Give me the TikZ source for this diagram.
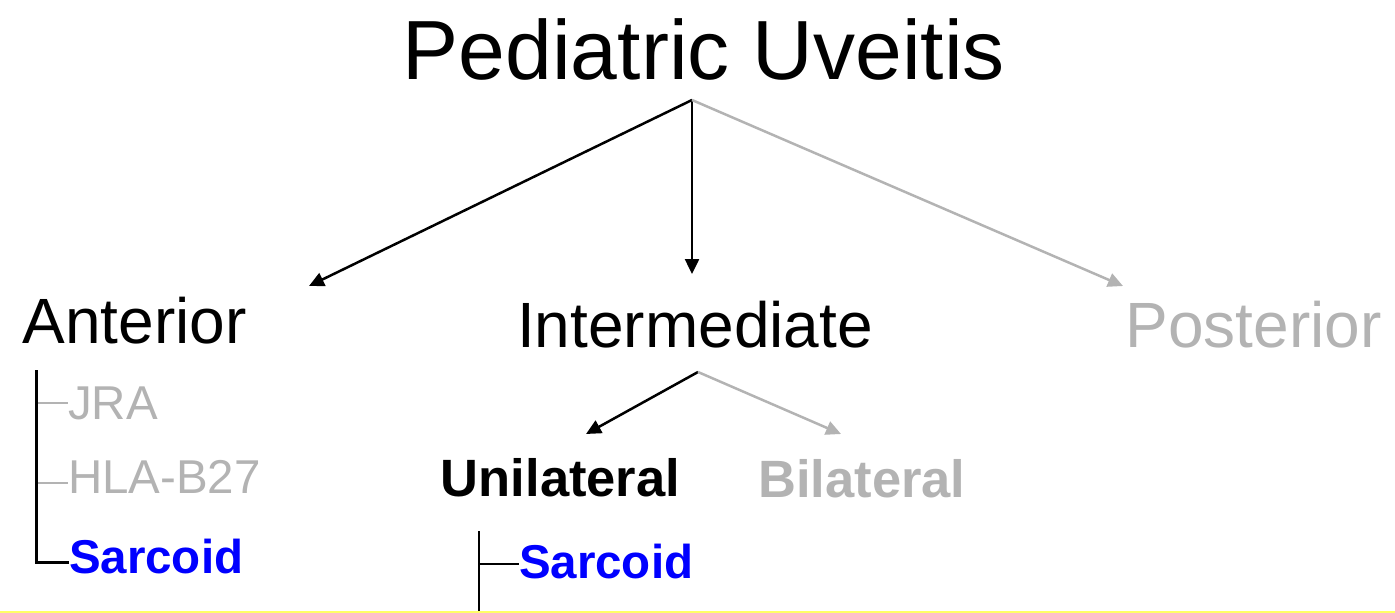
\documentclass[tikz,border=0pt]{standalone}
\usepackage{fontspec}
\setmainfont{Liberation Sans}
\usetikzlibrary{arrows.meta}
\definecolor{dimgray}{RGB}{179,179,179}
\definecolor{leafblue}{RGB}{0,0,255}
\definecolor{bandyellow}{RGB}{255,255,102}
\begin{document}
\begin{tikzpicture}[x=1pt,y=-1pt,
  lbl/.style={inner sep=0pt, outer sep=0pt},
  title/.style={lbl, anchor=base, font=\fontsize{84}{90}\selectfont},
  branch/.style={lbl, anchor=base, font=\fontsize{64}{70}\selectfont},
  side/.style={lbl, anchor=base, font=\bfseries\fontsize{52.5}{58}\selectfont},
  leaf/.style={lbl, anchor=base west, font=\fontsize{47.5}{52}\selectfont},
  boldleaf/.style={leaf, font=\bfseries\fontsize{47.5}{52}\selectfont, text=leafblue},
  arr/.style={-{Triangle[length=15pt,width=14pt]}, line width=2.5pt},
  tick/.style={line width=2.5pt, draw=dimgray},
  trunk/.style={line width=3pt, draw=black}]
\useasboundingbox (0,0) rectangle (1395,613);

% headings
\node[title] (root) at (704,79) {Pediatric Uveitis};
\node[branch] (ant) at (134.5,343) {Anterior};
\node[branch] (inter) at (695,347) {Intermediate};
\node[branch, text=dimgray] (post) at (1253.5,347) {Posterior};
\node[side] (uni) at (560.5,496) {Unilateral};
\node[side, text=dimgray] (bil) at (862,497) {Bilateral};

% leaves
\node[leaf, text=dimgray] (jra) at (68,419) {JRA};
\node[leaf, text=dimgray] (hla) at (68,493) {HLA-B27};
\node[boldleaf] (sarcA) at (69,573) {Sarcoid};
\node[boldleaf] (sarcU) at (519,578) {Sarcoid};

% junctions and arrow targets
\coordinate (rootjoin) at (692,100);
\coordinate (antTip) at (309,286);
\coordinate (interTip) at (692,274);
\coordinate (postTip) at (1123,286);
\coordinate (interjoin) at (698,372);
\coordinate (uniTip) at (586,434);
\coordinate (bilTip) at (841,434);

\draw[arr] (rootjoin) -- (antTip);
\draw[arr] (rootjoin) -- (interTip);
\draw[arr, draw=dimgray, fill=dimgray] (rootjoin) -- (postTip);
\draw[arr] (interjoin) -- (uniTip);
\draw[arr, draw=dimgray, fill=dimgray] (interjoin) -- (bilTip);

% anterior list
\coordinate (antTop) at (36,370);
\coordinate (antBot) at (36,562);
\draw[tick] (36,403) -- (jra.west |- 0,403);
\draw[tick] (36,483) -- (hla.west |- 0,483);
\draw[trunk] (antTop) -- (antBot) -- (sarcA.west |- antBot);

% unilateral list
\coordinate (uniTop) at (479,531);
\coordinate (uniBot) at (479,611);
\draw[line width=2.5pt] (uniTop) -- (uniBot);
\draw[line width=2.5pt] (479,564) -- (sarcU.west |- 0,564);

% bottom band
\fill[bandyellow] (0,610.5) rectangle (1395,613);
\end{tikzpicture}
\end{document}
